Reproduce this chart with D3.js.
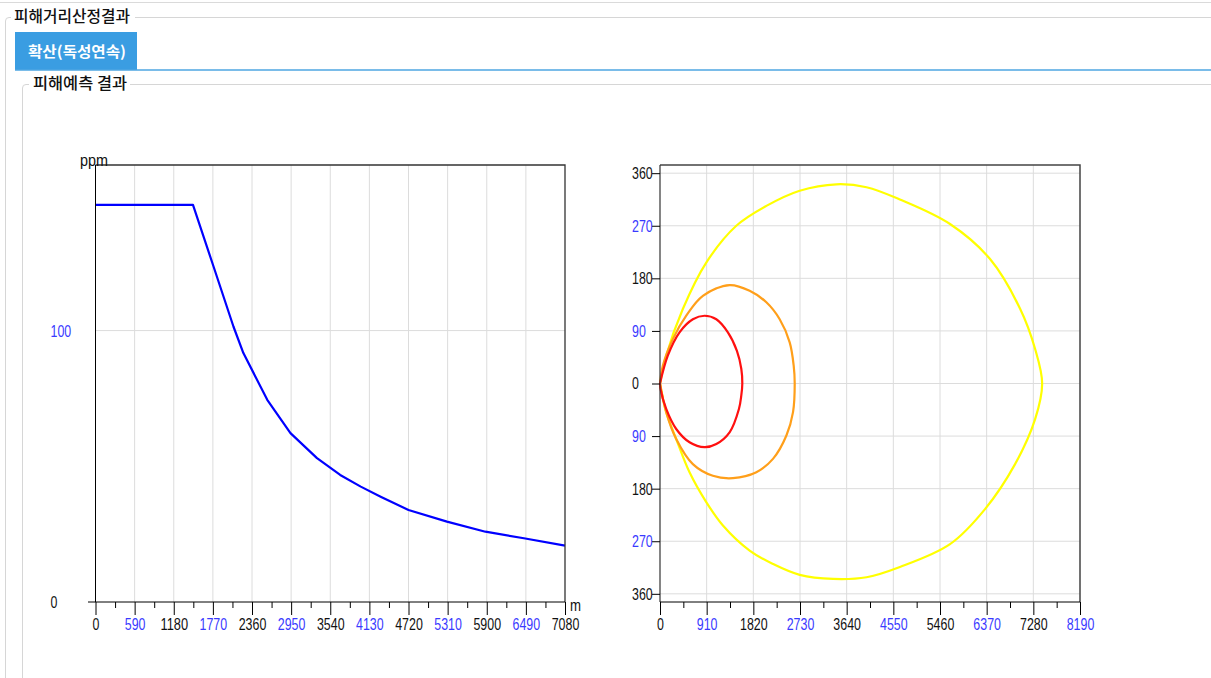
<!DOCTYPE html>
<html><head><meta charset="utf-8">
<script src="https://cdn.jsdelivr.net/npm/d3@7/dist/d3.min.js"></script>
<style>
html,body{margin:0;padding:0;background:#fff;}
svg{display:block;}
.num{font-family:"Liberation Sans",Arial,sans-serif;font-size:17px;}
.kr{font-family:"Noto Sans CJK KR","Noto Sans",sans-serif;}
</style>
</head><body>
<svg id="c" width="1211" height="678"></svg>
<script>
// ---- Left chart data (distance m vs concentration ppm)
const distX = [0, 1470, 1780, 2080, 2230, 2590, 2940, 3340, 3690, 4000, 4300, 4720, 5300, 5880, 6460, 7080];
const ppmY  = [146.3, 146.3, 123.6, 101.5, 91.7, 74.5, 62.2, 53.0, 46.8, 42.5, 38.8, 33.9, 29.6, 25.9, 23.5, 20.8];
const leftXTicks = [0, 590, 1180, 1770, 2360, 2950, 3540, 4130, 4720, 5310, 5900, 6490, 7080];
const leftYTicks = [0, 100];

// ---- Right chart data (plume contours, x m, y m) : upper half then lower half
const redX    = [0, 152, 381, 641, 869, 1098, 1324, 1500, 1586, 1605, 1586, 1539, 1357, 1098, 869, 576, 316, 121, 10, 0];
const redY    = [0, 47.6, 87.6, 110, 116, 110, 87.6, 56, 24.8, 0, -20, -43.6, -83.5, -103.5, -109, -100.6, -77.9, -43.6, -9.4, 0];
const orangeX = [0, 55, 250, 512, 836, 1357, 1748, 2074, 2334, 2529, 2607, 2627, 2594, 2465, 2203, 1879, 1422, 1031, 641, 316, 121, 0];
const orangeY = [0, 30.5, 76, 116, 150, 168.5, 158.8, 139, 110, 70.5, 30.5, 0, -49, -89, -129, -152, -162, -158, -138, -95, -49, 0];
const yellowX = [0, 121, 445, 902, 1488, 2074, 2724, 3441, 4027, 4678, 5655, 6436, 7022, 7315, 7452, 7315, 6924, 6338, 5655, 4678, 4027, 3375, 2724, 2203, 1748, 1227, 902, 576, 316, 121, 0];
const yellowY = [0, 47.6, 127.5, 207, 270, 304, 330, 341, 336, 315, 273, 213, 128, 59, 0, -61, -138, -215, -275, -314, -331.6, -334.5, -327.6, -309, -286, -243, -203, -152, -95, -49, 0];
const rightXTicks = [0, 910, 1820, 2730, 3640, 4550, 5460, 6370, 7280, 8190];
const rightYTicks = [-360, -270, -180, -90, 0, 90, 180, 270, 360];

const BLUE_LBL = "#3a3aff";
const DIGIT_W = 6.9;
const svg = d3.select("#c");
function narrow(sel){
  sel.attr("class","num").attr("font-size",null).attr("font-family",null)
     .attr("lengthAdjust","spacingAndGlyphs")
     .attr("textLength",function(){ return this.textContent.length*DIGIT_W; });
}

// ---- Frame / group boxes
svg.append("line").attr("x1",0).attr("x2",1211).attr("y1",2.5).attr("y2",2.5).attr("stroke","#dadada");
svg.append("path").attr("d","M1211,17.5 H9 Q5.5,17.5 5.5,21 V678").attr("fill","none").attr("stroke","#d6d6d6");
svg.append("rect").attr("x",11).attr("y",8).attr("width",124).attr("height",18).attr("fill","#fff");
svg.append("text").attr("class","kr").attr("x",14).attr("y",22).attr("font-size",15.5).attr("font-weight",500).attr("fill","#111")
  .attr("textLength",116).attr("lengthAdjust","spacingAndGlyphs").text("피해거리산정결과");
// tab
svg.append("rect").attr("x",15).attr("y",32).attr("width",122).attr("height",38).attr("fill","#3a9de2");
svg.append("line").attr("x1",15).attr("x2",1211).attr("y1",70).attr("y2",70).attr("stroke","#4ea6e2").attr("stroke-width",1.5);
svg.append("text").attr("class","kr").attr("x",77).attr("y",57).attr("text-anchor","middle").attr("font-size",15).attr("font-weight",700).attr("fill","#fff")
  .attr("textLength",98).attr("lengthAdjust","spacingAndGlyphs").text("확산(독성연속)");
// inner group
svg.append("path").attr("d","M1211,84.5 H26 Q22.5,84.5 22.5,88 V678").attr("fill","none").attr("stroke","#d6d6d6");
svg.append("rect").attr("x",29).attr("y",74).attr("width",101).attr("height",18).attr("fill","#fff");
svg.append("text").attr("class","kr").attr("x",33).attr("y",89).attr("font-size",15.5).attr("font-weight",500).attr("fill","#111")
  .attr("textLength",94).attr("lengthAdjust","spacingAndGlyphs").text("피해예측 결과");

// ---- Left chart
const L = {x0:95.5, x1:565, y0:602, y1:165};
const lx = d3.scaleLinear().domain([0,7080]).range([L.x0,L.x1]);
const ly = d3.scaleLinear().domain([0,161]).range([L.y0,L.y1]);
const lg = svg.append("g");
lg.append("g").selectAll("line").data(leftXTicks.slice(1,-1)).join("line")
  .attr("x1",d=>lx(d)).attr("x2",d=>lx(d)).attr("y1",L.y1).attr("y2",L.y0).attr("stroke","#dcdcdc");
lg.append("g").selectAll("line").data(leftYTicks.slice(1)).join("line")
  .attr("x1",L.x0).attr("x2",L.x1).attr("y1",d=>ly(d)).attr("y2",d=>ly(d)).attr("stroke","#dcdcdc");
lg.append("path").datum(distX.map((d,i)=>[d,ppmY[i]]))
  .attr("d",d3.line().x(d=>lx(d[0])).y(d=>ly(d[1])))
  .attr("fill","none").attr("stroke","#0000ff").attr("stroke-width",2.2).attr("stroke-linejoin","round");
lg.append("path").attr("d",`M${L.x0},${L.y1} H${L.x1} V${L.y0}`).attr("fill","none").attr("stroke","#333").attr("stroke-width",1.3);
lg.append("line").attr("x1",L.x0).attr("x2",L.x0).attr("y1",L.y1).attr("y2",L.y0).attr("stroke","#000");
lg.append("line").attr("x1",88).attr("x2",L.x1).attr("y1",L.y0).attr("y2",L.y0).attr("stroke","#000");
const lxa = lg.append("g").attr("transform",`translate(0,${L.y0})`)
  .call(d3.axisBottom(lx).tickValues(leftXTicks).tickSize(13).tickPadding(3).tickSizeOuter(0).tickFormat(d3.format("d")));
lxa.select(".domain").remove();
lxa.selectAll("text").call(narrow).attr("fill",(d,i)=>i%2?BLUE_LBL:"#111");
const lxm = lg.append("g").attr("transform",`translate(0,${L.y0})`)
  .call(d3.axisBottom(lx).tickValues(leftXTicks.slice(0,-1).map(d=>d+295)).tickSize(6).tickFormat(""));
lxm.select(".domain").remove();
const lya = lg.append("g").attr("transform",`translate(${L.x0},0)`)
  .call(d3.axisLeft(ly).tickValues(leftYTicks).tickSize(0).tickFormat(d3.format("d")));
lya.select(".domain").remove();
lya.selectAll("text").call(narrow).attr("text-anchor","start").attr("x",-45).attr("fill",(d,i)=>i%2?BLUE_LBL:"#111");
lg.append("text").attr("class","num").attr("x",80).attr("y",166).attr("fill","#111")
  .attr("textLength",28).attr("lengthAdjust","spacingAndGlyphs").text("ppm");
lg.append("text").attr("class","num").attr("x",570).attr("y",611).attr("fill","#111")
  .attr("textLength",11).attr("lengthAdjust","spacingAndGlyphs").text("m");

// ---- Right chart
const R = {x0:660, x1:1080, y0:602, y1:165};
const rx = d3.scaleLinear().domain([0,8190]).range([R.x0,R.x1]);
const ry = d3.scaleLinear().domain([-374,374]).range([R.y0,R.y1]);
const rg = svg.append("g");
rg.append("g").selectAll("line").data(rightXTicks.slice(1,-1)).join("line")
  .attr("x1",d=>rx(d)).attr("x2",d=>rx(d)).attr("y1",R.y1).attr("y2",R.y0).attr("stroke","#dcdcdc");
rg.append("g").selectAll("line").data(rightYTicks).join("line")
  .attr("x1",R.x0).attr("x2",R.x1).attr("y1",d=>ry(d)).attr("y2",d=>ry(d)).attr("stroke","#dcdcdc");
const contours = [
  {xs:yellowX, ys:yellowY, color:"#ffff00"},
  {xs:orangeX, ys:orangeY, color:"#ff9f1a"},
  {xs:redX, ys:redY, color:"#ff1010"}
];
const cl = d3.line().x(d=>rx(d[0])).y(d=>ry(d[1])).curve(d3.curveCatmullRom.alpha(0.5));
rg.append("g").selectAll("path").data(contours).join("path")
  .attr("d",c=>cl(c.xs.map((d,i)=>[d,c.ys[i]])))
  .attr("fill","none").attr("stroke",c=>c.color).attr("stroke-width",2.2);
rg.append("path").attr("d",`M${R.x0},${R.y1} H${R.x1} V${R.y0}`).attr("fill","none").attr("stroke","#444").attr("stroke-width",1.5);
rg.append("line").attr("x1",R.x0).attr("x2",R.x0).attr("y1",R.y1).attr("y2",R.y0).attr("stroke","#333").attr("stroke-width",1.2);
rg.append("line").attr("x1",R.x0).attr("x2",R.x1).attr("y1",R.y0).attr("y2",R.y0).attr("stroke","#000");
const rxa = rg.append("g").attr("transform",`translate(0,${R.y0})`)
  .call(d3.axisBottom(rx).tickValues(rightXTicks).tickSize(13).tickPadding(3).tickSizeOuter(0).tickFormat(d3.format("d")));
rxa.select(".domain").remove();
rxa.selectAll("text").call(narrow).attr("fill",(d,i)=>i%2?BLUE_LBL:"#111");
const rxm = rg.append("g").attr("transform",`translate(0,${R.y0})`)
  .call(d3.axisBottom(rx).tickValues(rightXTicks.slice(0,-1).map(d=>d+455)).tickSize(6).tickFormat(""));
rxm.select(".domain").remove();
const rya = rg.append("g").attr("transform",`translate(${R.x0},0)`)
  .call(d3.axisLeft(ry).tickValues(rightYTicks).tickSize(8).tickFormat(d=>Math.abs(d)));
rya.select(".domain").remove();
rya.selectAll("text").call(narrow).attr("text-anchor","start").attr("x",-28).attr("fill",d=>(Math.abs(d)/90)%2?BLUE_LBL:"#111");
</script>
</body></html>
